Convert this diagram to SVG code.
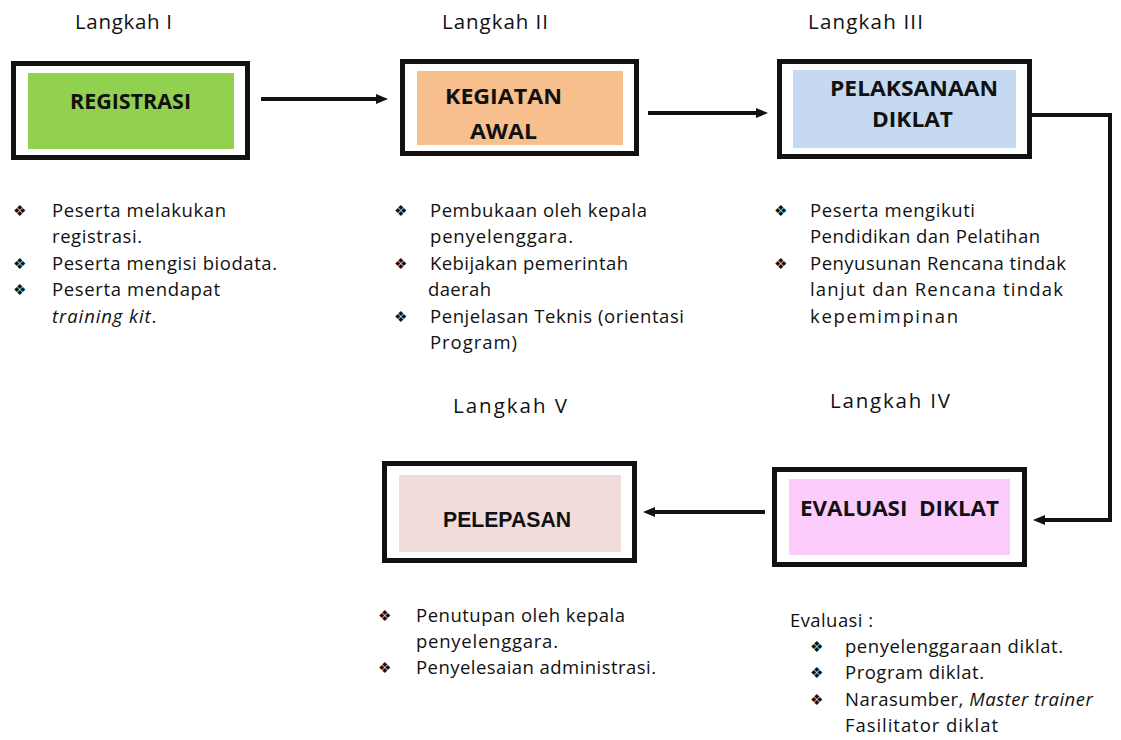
<svg xmlns="http://www.w3.org/2000/svg" width="1121" height="740" viewBox="0 0 1121 740">
<style>
.lbl{font-family:"Open Sans","Noto Sans",sans-serif;font-size:20.5px;fill:#111}
.t{font-family:"Open Sans","Noto Sans",sans-serif;font-size:18.5px;fill:#111}
.b{font-family:"DejaVu Sans",sans-serif;font-size:15px;fill:#111;font-variant-emoji:text}
.h{font-family:"Open Sans","Noto Sans",sans-serif;font-size:22px;font-weight:bold;fill:#111}
.frame{fill:#fff;stroke:#111;stroke-width:5}
.conn{fill:none;stroke:#111;stroke-width:4}
</style>
<defs>
<marker id="ah" viewBox="0 0 12 10" refX="2" refY="5" markerWidth="12" markerHeight="10" markerUnits="userSpaceOnUse" orient="auto">
<path d="M0,0 L12,5 L0,10 z" fill="#111"/>
</marker>
</defs>
<rect width="1121" height="740" fill="#fff"/>

<g id="labels">
<text class="lbl" x="75" y="29" textLength="97" lengthAdjust="spacing">Langkah I</text>
<text class="lbl" x="442" y="29" textLength="106" lengthAdjust="spacing">Langkah II</text>
<text class="lbl" x="808" y="29" textLength="115" lengthAdjust="spacing">Langkah III</text>
<text class="lbl" x="453" y="413" textLength="114" lengthAdjust="spacing">Langkah V</text>
<text class="lbl" x="830" y="408" textLength="120" lengthAdjust="spacing">Langkah IV</text>
</g>

<g id="connectors">
<path class="conn" d="M261,99 H378" marker-end="url(#ah)"/>
<path class="conn" d="M648,113 H758" marker-end="url(#ah)"/>
<path class="conn" d="M1032,115 H1110 V520 H1043" marker-end="url(#ah)"/>
<path class="conn" d="M765,512 H653" marker-end="url(#ah)"/>
</g>

<g id="node-registrasi">
<rect class="frame" x="13.5" y="63.5" width="234" height="94"/>
<rect x="28" y="73" width="206" height="76" fill="#92D050"/>
<text class="h" x="70" y="109" textLength="121" lengthAdjust="spacingAndGlyphs">REGISTRASI</text>
</g>

<g id="node-kegiatan-awal">
<rect class="frame" x="402.5" y="61.5" width="234" height="92"/>
<rect x="417" y="71" width="206" height="74" fill="#F7BE8E"/>
<text class="h" x="445" y="104" textLength="117" lengthAdjust="spacingAndGlyphs">KEGIATAN</text>
<text class="h" x="470" y="139" textLength="67" lengthAdjust="spacingAndGlyphs">AWAL</text>
</g>

<g id="node-pelaksanaan">
<rect class="frame" x="779.5" y="61.5" width="250" height="95"/>
<rect x="793" y="70" width="223" height="78" fill="#C5D9F1"/>
<text class="h" x="830" y="96" textLength="168" lengthAdjust="spacingAndGlyphs">PELAKSANAAN</text>
<text class="h" x="872" y="127" textLength="81" lengthAdjust="spacingAndGlyphs">DIKLAT</text>
</g>

<g id="node-evaluasi">
<rect class="frame" x="774.5" y="469.5" width="250" height="95"/>
<rect x="789" y="479" width="221" height="76" fill="#FCCCFC"/>
<text class="h" x="800" y="516" textLength="199" lengthAdjust="spacingAndGlyphs">EVALUASI&#160; DIKLAT</text>
</g>

<g id="node-pelepasan">
<rect class="frame" x="384.5" y="463.5" width="250" height="97"/>
<rect x="399" y="475" width="222" height="77" fill="#F2DCDB"/>
<text x="443" y="527" font-family="'Liberation Sans',Arial,sans-serif" font-size="22" font-weight="bold" fill="#111" textLength="128" lengthAdjust="spacingAndGlyphs">PELEPASAN</text>
</g>

<g id="notes-registrasi">
<text class="b" x="13" y="216">❖</text>
<text class="t" x="52" y="217" textLength="174" lengthAdjust="spacing">Peserta melakukan</text>
<text class="t" x="52" y="243" textLength="90" lengthAdjust="spacing">registrasi.</text>
<text class="b" x="13" y="269">❖</text>
<text class="t" x="52" y="270" textLength="225" lengthAdjust="spacing">Peserta mengisi biodata.</text>
<text class="b" x="13" y="295">❖</text>
<text class="t" x="52" y="296" textLength="168" lengthAdjust="spacing">Peserta mendapat</text>
<text class="t" x="52" y="323" letter-spacing="0.9"><tspan font-style="italic">training kit</tspan>.</text>
</g>

<g id="notes-kegiatan">
<text class="b" x="394" y="216">❖</text>
<text class="t" x="430" y="217" textLength="217" lengthAdjust="spacing">Pembukaan oleh kepala</text>
<text class="t" x="430" y="243" textLength="143" lengthAdjust="spacing">penyelenggara.</text>
<text class="b" x="394" y="269">❖</text>
<text class="t" x="430" y="270" textLength="198" lengthAdjust="spacing">Kebijakan pemerintah</text>
<text class="t" x="428" y="296" textLength="63" lengthAdjust="spacing">daerah</text>
<text class="b" x="394" y="322">❖</text>
<text class="t" x="430" y="323" textLength="254" lengthAdjust="spacing">Penjelasan Teknis (orientasi</text>
<text class="t" x="430" y="349" textLength="87" lengthAdjust="spacing">Program)</text>
</g>

<g id="notes-pelaksanaan">
<text class="b" x="774" y="216">❖</text>
<text class="t" x="810" y="217" textLength="165" lengthAdjust="spacing">Peserta mengikuti</text>
<text class="t" x="810" y="243" textLength="230" lengthAdjust="spacing">Pendidikan dan Pelatihan</text>
<text class="b" x="774" y="269">❖</text>
<text class="t" x="810" y="270" textLength="256" lengthAdjust="spacing">Penyusunan Rencana tindak</text>
<text class="t" x="810" y="296" textLength="253" lengthAdjust="spacing">lanjut dan Rencana tindak</text>
<text class="t" x="810" y="323" textLength="148" lengthAdjust="spacing">kepemimpinan</text>
</g>

<g id="notes-pelepasan">
<text class="b" x="378" y="621">❖</text>
<text class="t" x="416" y="622" textLength="209" lengthAdjust="spacing">Penutupan oleh kepala</text>
<text class="t" x="416" y="648" textLength="142" lengthAdjust="spacing">penyelenggara.</text>
<text class="b" x="378" y="673">❖</text>
<text class="t" x="416" y="674" textLength="240" lengthAdjust="spacing">Penyelesaian administrasi.</text>
</g>

<g id="notes-evaluasi">
<text class="t" x="790" y="627" textLength="83" lengthAdjust="spacing">Evaluasi :</text>
<text class="b" x="810" y="652">❖</text>
<text class="t" x="845" y="653" textLength="218" lengthAdjust="spacing">penyelenggaraan diklat.</text>
<text class="b" x="810" y="678">❖</text>
<text class="t" x="845" y="679" textLength="139" lengthAdjust="spacing">Program diklat.</text>
<text class="b" x="810" y="705">❖</text>
<text class="t" x="845" y="706" letter-spacing="0.5">Narasumber, <tspan font-style="italic">Master trainer</tspan></text>
<text class="t" x="845" y="732" textLength="153" lengthAdjust="spacing">Fasilitator diklat</text>
</g>
</svg>
